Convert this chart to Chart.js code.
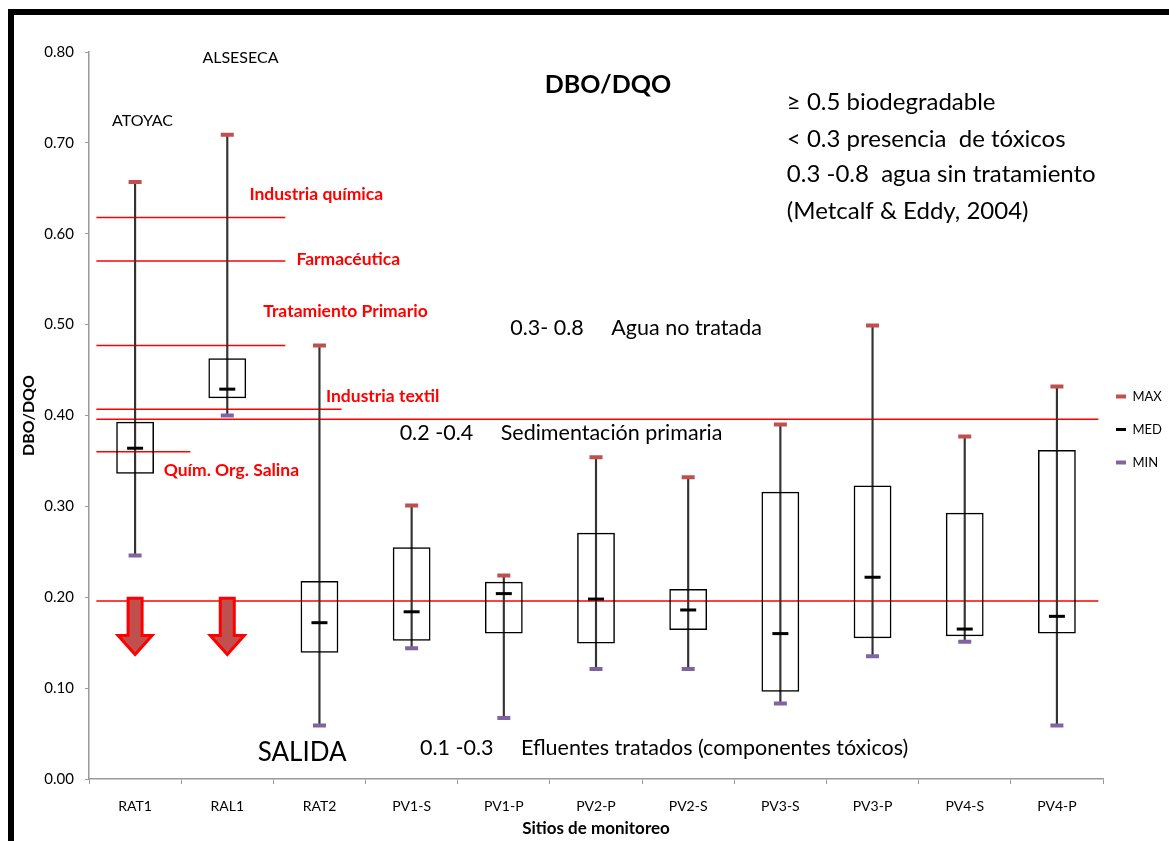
<!DOCTYPE html>
<html lang="es">
<head>
<meta charset="UTF-8">
<title>DBO/DQO</title>
<script src="https://cdn.jsdelivr.net/npm/chart.js"></script>
<style>
  body { margin: 0; background: #fff; overflow: hidden; }
  .frame { position: absolute; left: 8px; top: 9px; width: 1300px; height: 1000px; border: 6px solid #000; }
  #chart { position: absolute; left: 0; top: 0; }
</style>
</head>
<body>
<div class="frame"></div>
<canvas id="chart" width="1169" height="841"></canvas>
<script>
// sitios de monitoreo y estadísticos DBO/DQO
const sites   = ['RAT1', 'RAL1', 'RAT2', 'PV1-S', 'PV1-P', 'PV2-P', 'PV2-S', 'PV3-S', 'PV3-P', 'PV4-S', 'PV4-P'];
const maxVals = [0.657, 0.709, 0.477, 0.301, 0.224, 0.354, 0.332, 0.390, 0.499, 0.377, 0.432];
const q3Vals  = [0.393, 0.463, 0.218, 0.255, 0.217, 0.271, 0.209, 0.316, 0.323, 0.293, 0.362];
const medVals = [0.364, 0.429, 0.172, 0.184, 0.204, 0.198, 0.186, 0.160, 0.222, 0.165, 0.179];
const q1Vals  = [0.336, 0.419, 0.139, 0.152, 0.160, 0.149, 0.164, 0.096, 0.155, 0.157, 0.160];
const minVals = [0.246, 0.400, 0.059, 0.144, 0.067, 0.121, 0.121, 0.083, 0.135, 0.151, 0.059];

// valores de referencia por tipo de agua residual
const refValues = [0.618, 0.570, 0.477, 0.407, 0.396, 0.360, 0.196];
const refEnds   = [1.63, 1.63, 1.63, 2.24, 10.45, 0.60, 10.45];
const refStart  = -0.42;

// flechas de salida (RAT1, RAL1)
const arrowSites = [0, 1];
const arrowTop = 0.199, arrowNeck = 0.158, arrowTip = 0.137;

const RED = '#ff0000';
const notes = [
  { text: 'ATOYAC', x: -0.25, y: 0.724, font: '16px Lato', color: '#000' },
  { text: 'ALSESECA', x: 0.73, y: 0.794, font: '16px Lato', color: '#000' },
  { text: 'DBO/DQO', x: 5.13, y: 0.764, font: 'bold 25px Lato', color: '#000', align: 'center' },
  { text: '≥ 0.5 biodegradable', x: 7.07, y: 0.745, font: '24px Lato', color: '#000' },
  { text: '< 0.3 presencia  de tóxicos', x: 7.07, y: 0.704, font: '24px Lato', color: '#000' },
  { text: '0.3 -0.8  agua sin tratamiento', x: 7.07, y: 0.665, font: '24px Lato', color: '#000' },
  { text: '(Metcalf & Eddy, 2004)', x: 7.07, y: 0.625, font: '24px Lato', color: '#000' },
  { text: '0.3- 0.8     Agua no tratada', x: 4.07, y: 0.496, font: '21.5px Lato', color: '#000' },
  { text: '0.2 -0.4     Sedimentación primaria', x: 2.87, y: 0.381, font: '21.5px Lato', color: '#000' },
  { text: 'SALIDA', x: 1.33, y: 0.029, font: '26px Lato', color: '#000' },
  { text: '0.1 -0.3     Efluentes tratados (componentes tóxicos)', x: 3.09, y: 0.034, font: '21.5px Lato', color: '#000' },
  { text: 'Industria química', x: 1.24, y: 0.643, font: 'bold 17.5px Lato', color: RED },
  { text: 'Farmacéutica', x: 1.75, y: 0.572, font: 'bold 17.5px Lato', color: RED },
  { text: 'Tratamiento Primario', x: 1.39, y: 0.515, font: 'bold 17.5px Lato', color: RED },
  { text: 'Industria textil', x: 2.07, y: 0.421, font: 'bold 17.5px Lato', color: RED },
  { text: 'Quím. Org. Salina', x: 0.31, y: 0.340, font: 'bold 17.5px Lato', color: RED }
];

const refLines = {
  id: 'refLines',
  afterLayout(chart) {
    // leyenda un poco más pegada al área de trazado
    chart.legend.left -= 7;
    chart.legend.width += 7;
  },
  beforeDatasetsDraw(chart) {
    const { ctx, scales: { x, y } } = chart;
    ctx.save();
    ctx.strokeStyle = RED;
    ctx.lineWidth = 1.5;
    refValues.forEach((v, i) => {
      const py = y.getPixelForValue(v);
      ctx.beginPath();
      ctx.moveTo(x.getPixelForValue(refStart), py);
      ctx.lineTo(x.getPixelForValue(refEnds[i]), py);
      ctx.stroke();
    });
    ctx.restore();
  },
  afterDatasetsDraw(chart) {
    const { ctx, scales: { x, y } } = chart;
    ctx.save();
    // flechas
    arrowSites.forEach(i => {
      const cx = x.getPixelForValue(i);
      const top = y.getPixelForValue(arrowTop);
      const neck = y.getPixelForValue(arrowNeck);
      const tip = y.getPixelForValue(arrowTip);
      ctx.beginPath();
      ctx.moveTo(cx - 7, top);
      ctx.lineTo(cx + 7, top);
      ctx.lineTo(cx + 7, neck);
      ctx.lineTo(cx + 17, neck);
      ctx.lineTo(cx, tip);
      ctx.lineTo(cx - 17, neck);
      ctx.lineTo(cx - 7, neck);
      ctx.closePath();
      ctx.fillStyle = '#c0504d';
      ctx.fill();
      ctx.lineWidth = 3;
      ctx.lineJoin = 'miter';
      ctx.strokeStyle = RED;
      ctx.stroke();
    });
    // textos
    ctx.textBaseline = 'middle';
    notes.forEach(n => {
      ctx.font = n.font;
      ctx.fillStyle = n.color;
      ctx.textAlign = n.align || 'left';
      ctx.fillText(n.text, x.getPixelForValue(n.x), y.getPixelForValue(n.y));
    });
    ctx.restore();
  }
};

Chart.defaults.font.family = 'Lato';
Chart.defaults.color = '#000';

new Chart(document.getElementById('chart'), {
  type: 'bar',
  data: {
    labels: sites,
    datasets: [
      {
        label: 'MAX', type: 'line', data: maxVals, showLine: false, order: 0,
        pointStyle: 'line', pointRadius: 6.5, pointHoverRadius: 6.5,
        pointBorderWidth: 4, pointBorderColor: '#c0504d', borderColor: '#c0504d', backgroundColor: '#c0504d'
      },
      {
        label: 'MED', type: 'line', data: medVals, showLine: false, order: 0,
        pointStyle: 'line', pointRadius: 8, pointHoverRadius: 8,
        pointBorderWidth: 3, pointBorderColor: '#000', borderColor: '#000', backgroundColor: '#000'
      },
      {
        label: 'MIN', type: 'line', data: minVals, showLine: false, order: 0,
        pointStyle: 'line', pointRadius: 6.5, pointHoverRadius: 6.5,
        pointBorderWidth: 4, pointBorderColor: '#8064a2', borderColor: '#8064a2', backgroundColor: '#8064a2'
      },
      {
        label: 'caja', data: q1Vals.map((v, i) => [v, q3Vals[i]]), order: 1, grouped: false,
        backgroundColor: 'rgba(0,0,0,0)', borderColor: '#000', borderWidth: 1.5, borderSkipped: false,
        categoryPercentage: 1, barPercentage: 0.41
      },
      {
        label: 'rango', data: minVals.map((v, i) => [v, maxVals[i]]), order: 2, grouped: false,
        backgroundColor: '#333', borderWidth: 0, barThickness: 1.5
      }
    ]
  },
  options: {
    responsive: false,
    animation: false,
    devicePixelRatio: 1,
    layout: { padding: { top: 52, left: 0, right: 4, bottom: 0 } },
    plugins: {
      tooltip: { enabled: false },
      legend: {
        position: 'right',
        fullSize: false,
        align: 'center',
        maxWidth: 62,
        title: { display: true, text: '', font: { size: 10 }, padding: { top: 8, bottom: 8 } },
        labels: {
          usePointStyle: true,
          pointStyleWidth: 10,
          boxHeight: 10,
          padding: 20,
          font: { size: 13 },
          color: '#000',
          filter: item => ['MAX', 'MED', 'MIN'].includes(item.text)
        }
      }
    },
    scales: {
      x: {
        afterFit: s => { s.height = 62; },
        grid: { drawOnChartArea: false, tickLength: 5, color: '#999', offset: true },
        border: { color: '#999', width: 1.5 },
        ticks: { padding: 14, font: { size: 14 }, color: '#000' },
        title: { display: true, text: 'Sitios de monitoreo', font: { size: 17, weight: 'bold' }, padding: { top: 0, bottom: 2 } }
      },
      y: {
        min: 0, max: 0.8,
        afterFit: s => { s.width = 89; },
        grid: { drawOnChartArea: false, tickLength: 4, color: '#999' },
        border: { color: '#999', width: 1.5 },
        ticks: { stepSize: 0.1, padding: 11, font: { size: 15 }, color: '#000', callback: v => v.toFixed(2) },
        title: { display: true, text: 'DBO/DQO', font: { size: 16, weight: 'bold' }, padding: { top: 19, bottom: 0 } }
      }
    }
  },
  plugins: [refLines]
});
</script>
</body>
</html>
